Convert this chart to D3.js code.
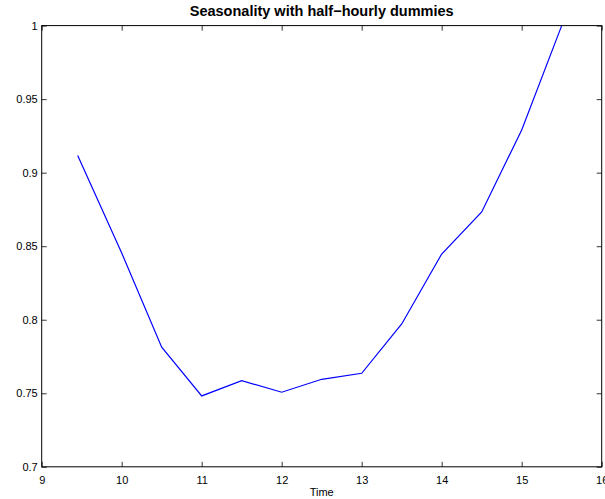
<!DOCTYPE html>
<html><head><meta charset="utf-8">
<script src="https://cdn.jsdelivr.net/npm/d3@7"></script>
<style>body{margin:0;background:#fff}svg{display:block}text{font-family:"Liberation Sans",Arial,Helvetica,sans-serif}</style>
</head><body><svg id="c" width="605" height="499"></svg>
<script>
const times = [9.45, 10, 10.5, 11, 11.5, 12, 12.5, 13, 13.5, 14, 14.5, 15, 15.5];
const values = [0.9116, 0.8454, 0.7813, 0.7482, 0.7586, 0.7507, 0.7595, 0.7636, 0.7971, 0.8447, 0.8733, 0.929, 1.0];
const xTicks = [9, 10, 11, 12, 13, 14, 15, 16];
const yTicks = [0.7, 0.75, 0.8, 0.85, 0.9, 0.95, 1];
const titleText = "Seasonality with half\u2212hourly dummies";
const xLabel = "Time";

const m = {l: 41.7, r: 601.7, t: 25.6, b: 466.8};
const svg = d3.select("#c");
const x = d3.scaleLinear().domain([9, 16]).range([m.l, m.r]);
const y = d3.scaleLinear().domain([0.7, 1]).range([m.b, m.t]);

svg.append("defs").append("clipPath").attr("id", "clip").append("rect")
  .attr("x", m.l).attr("y", m.t - 1).attr("width", m.r - m.l).attr("height", m.b - m.t + 2);

svg.append("path").datum(times.map((t, i) => [t, values[i]]))
  .attr("clip-path", "url(#clip)")
  .attr("fill", "none").attr("stroke", "#0000ff").attr("stroke-width", 1.2)
  .attr("d", d3.line().x(d => x(d[0])).y(d => y(d[1])));

const fmt = d => String(+d.toFixed(2));
function styleAxis(g) {
  g.select(".domain").remove();
  g.selectAll(".tick line").attr("stroke", "#000").attr("stroke-width", 0.8);
  g.selectAll(".tick text").attr("fill", "#000").style("font-size", "11px");
}
svg.append("g").attr("transform", `translate(0,${m.b})`)
  .call(d3.axisBottom(x).tickValues(xTicks).tickFormat(fmt).tickSizeInner(-5).tickSizeOuter(0).tickPadding(9))
  .call(styleAxis);
svg.append("g").attr("transform", `translate(0,${m.t})`)
  .call(d3.axisTop(x).tickValues(xTicks).tickFormat("").tickSizeInner(-5).tickSizeOuter(0))
  .call(styleAxis);
svg.append("g").attr("transform", `translate(${m.l},0)`)
  .call(d3.axisLeft(y).tickValues(yTicks).tickFormat(fmt).tickSizeInner(-5).tickSizeOuter(0).tickPadding(3))
  .call(g => g.selectAll(".tick text").attr("x", -4))
  .call(styleAxis);
svg.append("g").attr("transform", `translate(${m.r},0)`)
  .call(d3.axisRight(y).tickValues(yTicks).tickFormat("").tickSizeInner(-5).tickSizeOuter(0))
  .call(styleAxis);

svg.append("rect").attr("x", m.l).attr("y", m.t).attr("width", m.r - m.l).attr("height", m.b - m.t)
  .attr("fill", "none").attr("stroke", "#000").attr("stroke-width", 1);

svg.append("text").attr("x", (m.l + m.r) / 2).attr("y", 16).attr("text-anchor", "middle")
  .style("font-size", "14.5px").style("font-weight", "bold").text(titleText);
svg.append("text").attr("x", (m.l + m.r) / 2).attr("y", 496).attr("text-anchor", "middle")
  .style("font-size", "11px").text(xLabel);
</script></body></html>
